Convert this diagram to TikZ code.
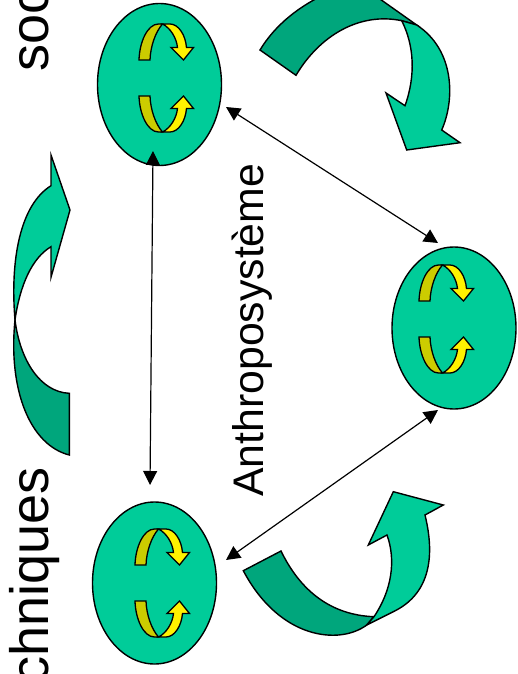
\documentclass[tikz,border=0pt]{standalone}
\usepackage{fontspec}
\setmainfont{Liberation Sans}
\usetikzlibrary{arrows.meta,shapes.geometric}
\definecolor{cellgreen}{HTML}{00CC99}
\definecolor{darkgreen}{HTML}{00A67C}
\definecolor{darkyellow}{HTML}{CCCC00}
\tikzset{
  cell/.style = {ellipse, draw, fill = cellgreen, line width = 1.4pt, minimum width = 124pt, minimum height = 162pt, inner sep = 0pt},
  bigarrow/.style = {draw, line width = 1.4pt, line join = miter},
  link/.style = {line width = 1.2pt, {Triangle[length = 14pt, width = 14pt]}-{Triangle[length = 14pt, width = 14pt]}},
  bigtext/.style = {rotate = 90, inner sep = 0pt},
  anthrotext/.style = {bigtext, font = \fontsize{42.8}{48}\selectfont},
  sidetext/.style = {bigtext, font = \fontsize{54}{60}\selectfont}
}
\begin{document}
\begin{tikzpicture}[x = 1pt, y = -1pt]
      \useasboundingbox (0,0) rectangle (517,674);
      \clip (0,0) rectangle (517,674);
      \node[cell] (top) at (159.5,84.5) {};
      \node[cell] (left) at (154.5,583) {};
      \node[cell] (right) at (454,328) {};
      % small arrows inside the cells
      \foreach \cellname/\dx/\dy in {top/0/-6.5, left/1/0, right/-14.5/-9} {
        \foreach \flip in {1, -1} {
          \begin{scope}[shift = {(\cellname.center)}, shift = {(\dx,\dy)}, yscale = \flip, line width = 1.3pt]
            \path[draw, fill = darkyellow] (-20.5,18) .. controls (-20,36) and (-12,54) .. (-1,54)
            -- (3,54) .. controls (-4,46) and (-9,32) .. (-9.5,18) -- cycle;
            \path[draw, fill = yellow] (3,54) -- (10.5,54) .. controls (19,54) and (26,43) .. (27,30.5)
            -- (34,30.5) -- (24,18) -- (11.5,30.5) -- (18,30.5) .. controls (17,40) and (11,50) .. (3,54) -- cycle;
          \end{scope}
        }
      }
      % big arrows
      \draw[bigarrow, fill = darkgreen] (260,50) .. controls (275,25) and (300,5) .. (330,-8)
      -- (370,-8) -- (416.7,25) -- (401.7,20.7) .. controls (360,12) and (320,35) .. (296,75.3) -- cycle;
      \draw[bigarrow, fill = cellgreen] (401.7,20.7) .. controls (414,45) and (416,75) .. (405,105.7)
      -- (386,93) -- (406.7,150) -- (460,142.7) -- (441.7,130) .. controls (455,100) and (455,50) .. (416.7,25) -- cycle;
      \draw[bigarrow, fill = darkgreen] (15,320) .. controls (20,360) and (40,392) .. (69.3,393.3)
      -- (69.3,455) .. controls (30,445) and (8,390) .. (15,320) -- cycle;
      \draw[bigarrow, fill = cellgreen] (15,320) .. controls (10,260) and (20,205) .. (51,185.7)
      -- (51,155) -- (70,210) -- (51,277.3) -- (51,246.7) .. controls (32,258) and (20,285) .. (15,320) -- cycle;
      \draw[bigarrow, fill = darkgreen] (243.3,570.7) -- (281,551) .. controls (300,590) and (330,615) .. (374,616.7)
      -- (366.7,625) .. controls (340,645) and (280,640) .. (243.3,570.7) -- cycle;
      \draw[bigarrow, fill = cellgreen] (374,616.7) .. controls (392,590) and (396,560) .. (387,535)
      -- (368.3,545) -- (393.3,491.7) -- (443.3,505) -- (425,515) .. controls (436,560) and (428,595) .. (393.3,611.7)
      -- (366.7,625) -- cycle;
      % links between the cells
      \draw[link] ([shift = {(-6.5,66.5)}]top.center) -- ([shift = {(-4.5,-98)}]left.center);
      \draw[link] ([shift = {(66.5,22.5)}]top.center) -- ([shift = {(-16,-85)}]right.center);
      \draw[link] ([shift = {(71.5,-23)}]left.center) -- ([shift = {(-16,82)}]right.center);
      % texts
      \node[anthrotext, anchor = base west] (anthro) at (263.5,497) {Anthroposystème};
      \node[sidetext, anchor = base west] (soc) at (48.5,72) {soc};
      \node[sidetext, anchor = base east] (tech) at (48.5,467) {chniques};
    \end{tikzpicture}
\end{document}
